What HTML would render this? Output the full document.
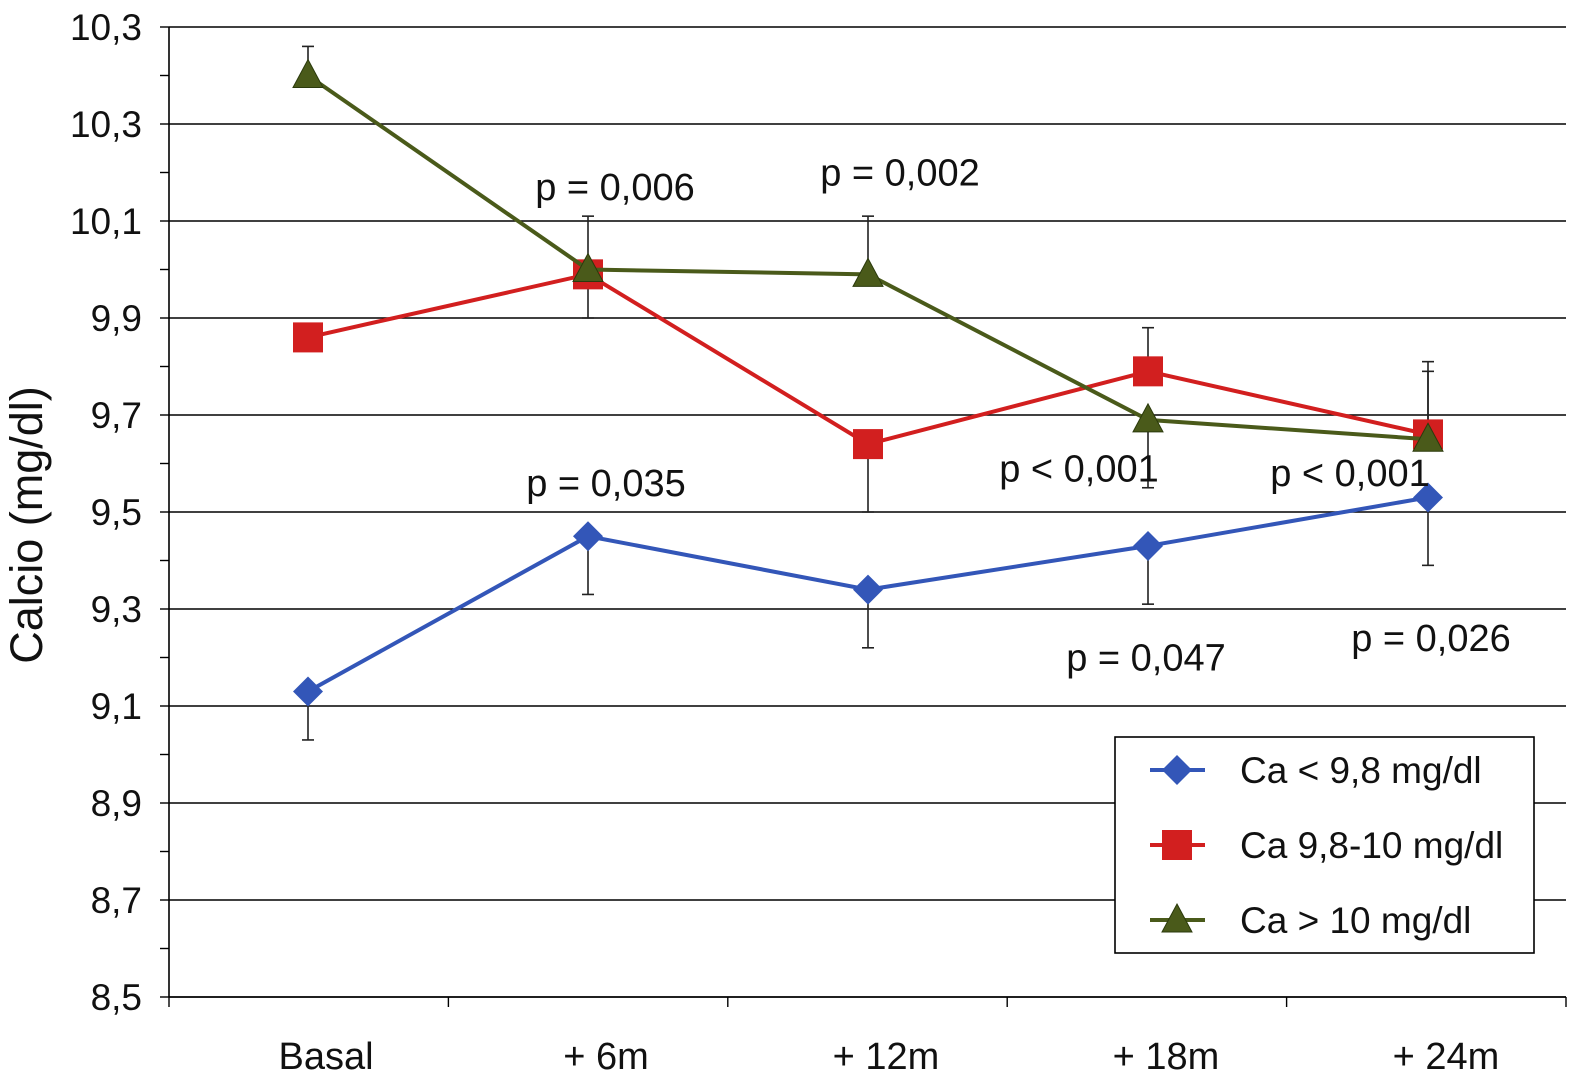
<!DOCTYPE html>
<html><head><meta charset="utf-8"><style>
html,body{margin:0;padding:0;background:#fff;}
svg{display:block;font-family:"Liberation Sans",sans-serif;}
</style></head><body>
<svg id="chart" width="1574" height="1083" viewBox="0 0 1574 1083"></svg>
<script>
const categories=["Basal","+ 6m","+ 12m","+ 18m","+ 24m"];
const yTickLabels=["8,5","8,7","8,9","9,1","9,3","9,5","9,7","9,9","10,1","10,3","10,3"];
const blueVals=[9.13,9.45,9.34,9.43,9.53];
const blueLow=[9.03,9.33,9.22,9.31,9.39];
const redVals=[9.86,9.99,9.64,9.79,9.66];
const redErrLo=[null,null,9.50,null,null];
const redErrHi=[null,null,null,9.88,9.79];
const greenVals=[10.40,10.00,9.99,9.69,9.65];
const greenHi=[10.46,10.11,10.11,null,9.81];
const greenLo=[null,9.90,null,9.55,null];
const pLabels=["p = 0,006","p = 0,002","p = 0,035","p < 0,001","p < 0,001","p = 0,047","p = 0,026"];
const pX=[615,900,606,1079,1350,1146,1431];
const pVal=[10.17,10.2,9.56,9.59,9.58,9.20,9.24];

const NS="http://www.w3.org/2000/svg";
const svg=document.getElementById('chart');
const L=169,R=1566,T=27,B=997,yMin=8.5,yMax=10.5;
const y=v=>B-(v-yMin)/(yMax-yMin)*(B-T);
const x=i=>308+i*280;
function mk(t,a,p){const e=document.createElementNS(NS,t);for(const k in a)e.setAttribute(k,a[k]);(p||svg).appendChild(e);return e;}

const grid=mk('g',{});


for(let i=0;i<yTickLabels.length;i++){
  const v=yMin+i*0.2;
  mk('line',{x1:L,x2:R,y1:y(v),y2:y(v),stroke:'#000','stroke-width':1.4},grid);
  mk('line',{x1:160,x2:L,y1:y(v),y2:y(v),stroke:'#000','stroke-width':1.4},grid);
  if(i<yTickLabels.length-1) mk('line',{x1:160,x2:L,y1:y(v+0.1),y2:y(v+0.1),stroke:'#000','stroke-width':1.4},grid);
  const t=mk('text',{x:142,y:y(v)+13,'text-anchor':'end','font-size':37,fill:'#111'});
  t.textContent=yTickLabels[i];
  
  
}
mk('line',{x1:L,x2:L,y1:T,y2:B,stroke:'#000','stroke-width':1.6});
mk('line',{x1:L,x2:R,y1:B,y2:B,stroke:'#000','stroke-width':1.6});
for(let i=0;i<=5;i++){const tx=L+i*(R-L)/5;mk('line',{x1:tx,x2:tx,y1:B,y2:B+10,stroke:'#000','stroke-width':1.4});}
categories.forEach((c,i)=>{
  const t=mk('text',{x:x(i)+18,y:1069,'text-anchor':'middle','font-size':38,fill:'#111'});
  t.textContent=c;
  
  
});
const yt=mk('text',{x:0,y:0,transform:'translate(42,525) rotate(-90)','text-anchor':'middle','font-size':45,fill:'#111'});
yt.textContent='Calcio (mg/dl)';



function err(vals,ends){ends.forEach((e,i)=>{if(e==null)return;
  mk('line',{x1:x(i),x2:x(i),y1:y(vals[i]),y2:y(e),stroke:'#222','stroke-width':1.6});
  mk('line',{x1:x(i)-6,x2:x(i)+6,y1:y(e),y2:y(e),stroke:'#222','stroke-width':1.6});});}
err(blueVals,blueLow);err(redVals,redErrLo);err(redVals,redErrHi);err(greenVals,greenHi);err(greenVals,greenLo);

function marker(type,cx,cy,col,g){
  if(type==='d')return mk('polygon',{points:`${cx},${cy-15} ${cx+15},${cy} ${cx},${cy+15} ${cx-15},${cy}`,fill:col},g);
  if(type==='s')return mk('rect',{x:cx-15,y:cy-15,width:30,height:30,fill:col},g);
  return mk('polygon',{points:`${cx},${cy-16} ${cx+15},${cy+12} ${cx-15},${cy+12}`,fill:col,stroke:'#2b3a0c','stroke-width':1},g);
}
function series(vals,col,type,name){
  const g=mk('g',{});
  
  
  mk('polyline',{points:vals.map((v,i)=>x(i)+','+y(v)).join(' '),fill:'none',stroke:col,'stroke-width':4},g);
  vals.forEach((v,i)=>{const m=marker(type,x(i),y(v),col,g);
    
    });
}
series(blueVals,'#3356b8','d','series-ca-low');
series(redVals,'#d21f1f','s','series-ca-mid');
series(greenVals,'#4a5a1a','t','series-ca-high');

pLabels.forEach((p,i)=>{
  const t=mk('text',{x:pX[i],y:y(pVal[i])+13,'text-anchor':'middle','font-size':38,fill:'#111'});
  t.textContent=p;
  
  
});

const lg=mk('g',{});


mk('rect',{x:1115,y:737,width:419,height:216,fill:'#fff',stroke:'#000','stroke-width':1.6},lg);
const ln=['Ca < 9,8 mg/dl','Ca 9,8-10 mg/dl','Ca > 10 mg/dl'],lc=['#3356b8','#d21f1f','#4a5a1a'],lt=['d','s','t'];
ln.forEach((n,i)=>{const ly=770+i*75;
  const e=mk('g',{},lg);
  
  
  mk('line',{x1:1150,x2:1205,y1:ly,y2:ly,stroke:lc[i],'stroke-width':4},e);
  marker(lt[i],1177,ly,lc[i],e);
  const t=mk('text',{x:1240,y:ly+13,'font-size':37,fill:'#111'},e);t.textContent=n;});
</script>
</body></html>
